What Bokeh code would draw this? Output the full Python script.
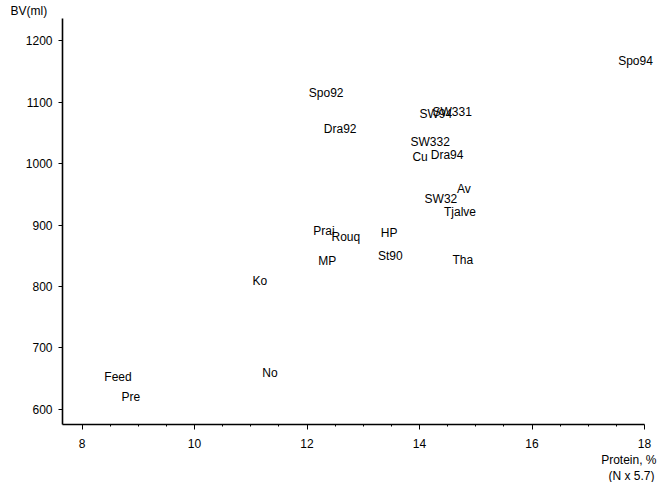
from bokeh.plotting import figure
from bokeh.models import ColumnDataSource, LabelSet, Title, Range1d, FixedTicker
from bokeh.core.properties import value
from bokeh.embed import file_html
from bokeh.resources import INLINE

names = ["Spo94", "Spo92", "SW331", "SW94", "Dra92", "SW332", "Cu", "Dra94",
         "Av", "SW32", "Tjalve", "Prai", "Rouq", "HP", "MP", "St90", "Tha",
         "Ko", "Feed", "Pre", "No"]
protein = [17.84, 12.34, 14.58, 14.29, 12.59, 14.19, 14.01, 14.49,
           14.79, 14.38, 14.72, 12.30, 12.69, 13.46, 12.36, 13.48, 14.77,
           11.16, 8.64, 8.87, 11.34]
bv = [1167, 1115, 1084, 1081, 1057, 1035, 1011, 1014,
      959, 942, 921, 890, 880, 887, 841, 849, 843,
      809, 652, 621, 659]

x_ticks = [8, 10, 12, 14, 16, 18]
y_ticks = [600, 700, 800, 900, 1000, 1100, 1200]
y_title = "BV(ml)"
x_title = ["Protein, %", "(N x 5.7)"]

FONT = "Liberation Sans"

p = figure(width=662, height=482, output_backend="svg", toolbar_location=None,
           x_range=Range1d(7.653, 18.213), y_range=Range1d(575.5, 1236),
           min_border_left=62, min_border_right=6, min_border_top=0,
           min_border_bottom=0)
p.outline_line_color = None
p.grid.visible = False
p.background_fill_color = "white"
p.border_fill_color = "white"

xa = p.xaxis[0]
xa.bounds = (7.653, 18.0)
xa.ticker = FixedTicker(ticks=x_ticks,
                        minor_ticks=[8.5 + 0.5 * i for i in range(-1, 20) if (8.5 + 0.5 * i) % 2 != 0])
xa.axis_line_width = 1.6
xa.axis_line_color = "black"
xa.major_tick_in = 0
xa.major_tick_out = 5
xa.minor_tick_in = 0
xa.minor_tick_out = 2
xa.major_tick_line_color = "black"
xa.minor_tick_line_color = "black"
xa.major_label_standoff = 9
xa.major_label_text_font = FONT
xa.major_label_text_font_size = "12px"
xa.major_label_text_color = "black"

ya = p.yaxis[0]
ya.ticker = FixedTicker(ticks=y_ticks, minor_ticks=[])
ya.axis_line_width = 1.6
ya.axis_line_color = "black"
ya.major_tick_in = 0
ya.major_tick_out = 4
ya.minor_tick_in = 0
ya.minor_tick_out = 0
ya.major_tick_line_color = "black"
ya.major_label_standoff = 6
ya.major_label_text_font = FONT
ya.major_label_text_font_size = "12px"
ya.major_label_text_color = "black"

src = ColumnDataSource(dict(x=protein, y=bv, name=names))
labels = LabelSet(x="x", y="y", text="name", source=src,
                  text_align="center", text_baseline="middle",
                  text_font=value(FONT), text_font_size=value("12px"), text_color="black")
p.add_layout(labels)

p.add_layout(Title(text=y_title, align="left", offset=-52, standoff=2,
                   text_font=FONT, text_font_size="12px", text_font_style="normal",
                   text_color="black"), "above")
p.add_layout(Title(text=x_title[0], align="right", offset=0, standoff=0,
                   text_font=FONT, text_font_size="12px", text_font_style="normal",
                   text_color="black"), "below")
p.add_layout(Title(text=x_title[1], align="right", offset=2, standoff=0,
                   text_font=FONT, text_font_size="12px", text_font_style="normal",
                   text_color="black"), "below")

open("out.html", "w").write(file_html(p, INLINE))
